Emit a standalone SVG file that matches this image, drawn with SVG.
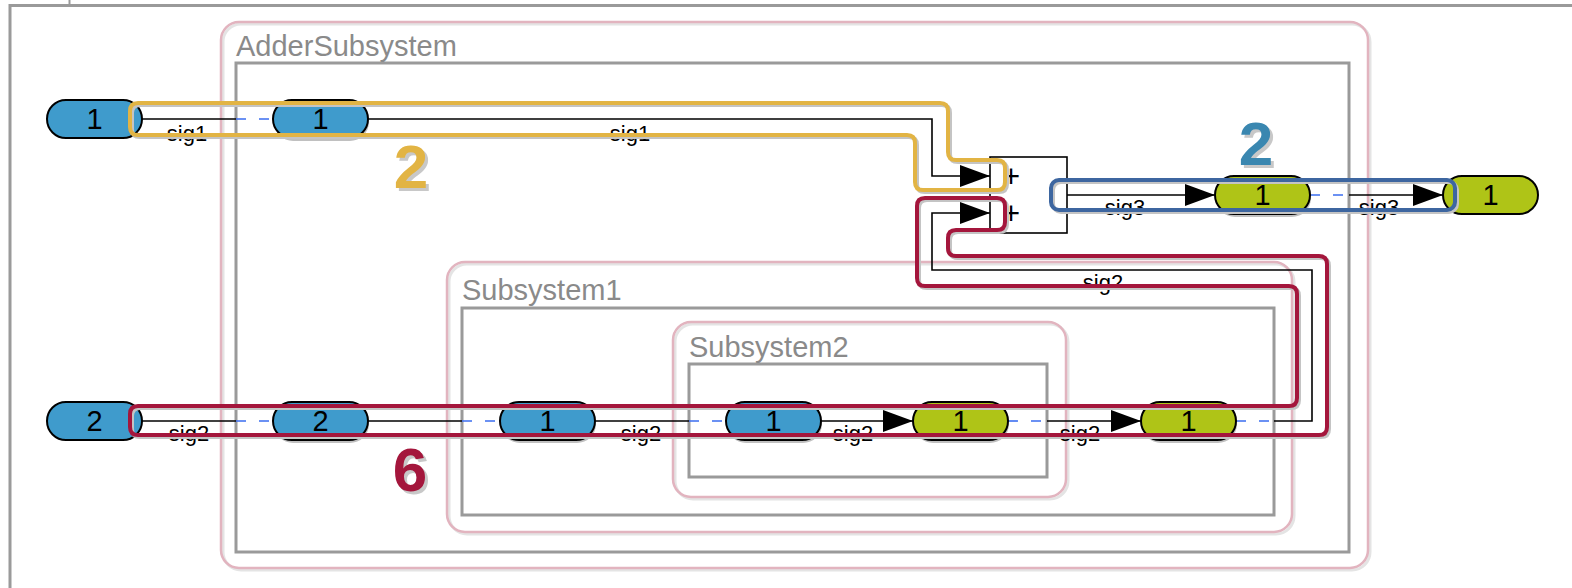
<svg xmlns="http://www.w3.org/2000/svg" width="1572" height="588" viewBox="0 0 1572 588">
<style>
text{font-family:"Liberation Sans",Arial,sans-serif}
.pink{fill:none;stroke:#e2b4bf;stroke-width:2.5}
.pinksh{fill:none;stroke:#e4e4e4;stroke-width:3}
.grey{fill:none;stroke:#9a9a9a;stroke-width:3}
.flabel{font-size:29px;fill:#8a8a8a}
.pin{fill:#3f9bcc;stroke:#000;stroke-width:2}
.pout{fill:#afc417;stroke:#000;stroke-width:2}
.psh{fill:#8c8c8c;opacity:.55}
.pt{font-size:29px;fill:#000;text-anchor:middle}
.wire{fill:none;stroke:#000;stroke-width:1.6}
.dash{fill:none;stroke:#3b6ef0;stroke-width:1.6;stroke-dasharray:10 13}
.lbl{font-size:22px;fill:#000;text-anchor:middle}
.hl{fill:none;stroke-width:4;stroke-linejoin:round}
.hlsh{fill:none;stroke:#c4c4c4;stroke-width:4;stroke-linejoin:round}
.badge{font-size:62px;font-weight:bold;text-anchor:middle}
.bsh{font-size:62px;font-weight:bold;text-anchor:middle;fill:#c8c8c8}
</style>
<defs>
<marker id="arr" markerWidth="30" markerHeight="22" refX="30" refY="11" orient="auto" markerUnits="userSpaceOnUse"><path d="M0,0 L30,11 L0,22 Z" fill="#000"/></marker>
</defs>
<rect width="1572" height="588" fill="#fff"/>
<g id="canvas-frame">
<path d="M10,588 V5.5 H1572" fill="none" stroke="#9a9a9a" stroke-width="3"/>
<line x1="69.5" y1="0" x2="69.5" y2="5" stroke="#9a9a9a" stroke-width="2"/>
</g>
<g id="AdderSubsystem">
<rect class="pinksh" x="223" y="24" width="1147" height="546" rx="18"/>
<rect class="pink" x="221" y="22" width="1147" height="546" rx="18"/>
<rect class="grey" x="236" y="63" width="1113" height="489"/>
<text class="flabel" x="236" y="56">AdderSubsystem</text>
</g>
<g id="Subsystem1">
<rect class="pinksh" x="449" y="264" width="845" height="270" rx="18"/>
<rect class="pink" x="447" y="262" width="845" height="270" rx="18"/>
<rect class="grey" x="462" y="308" width="812" height="207"/>
<text class="flabel" x="462" y="300">Subsystem1</text>
</g>
<g id="Subsystem2">
<rect class="pinksh" x="675" y="324" width="393" height="175" rx="18"/>
<rect class="pink" x="673" y="322" width="393" height="175" rx="18"/>
<rect class="grey" x="689" y="364" width="358" height="113"/>
<text class="flabel" x="689" y="357">Subsystem2</text>
</g>
<g id="connectors">
<path class="wire" d="M142,119 H236"/>
<path class="dash" d="M236,119 H273"/>
<path class="wire" d="M368,119 H932 V176 H990" marker-end="url(#arr)"/>
<path class="wire" d="M142,421 H236"/>
<path class="dash" d="M236,421 H273"/>
<path class="wire" d="M368,421 H462"/>
<path class="dash" d="M462,421 H500"/>
<path class="wire" d="M595,421 H689"/>
<path class="dash" d="M689,421 H726"/>
<path class="wire" d="M821,421 H913" marker-end="url(#arr)"/>
<path class="dash" d="M1008,421 H1047"/>
<path class="wire" d="M1047,421 H1141" marker-end="url(#arr)"/>
<path class="dash" d="M1236,421 H1274"/>
<path class="wire" d="M1274,421 H1312 V270 H932 V213 H990" marker-end="url(#arr)"/>
<path class="wire" d="M1067,195 H1215" marker-end="url(#arr)"/>
<path class="dash" d="M1310,195 H1349"/>
<path class="wire" d="M1349,195 H1443" marker-end="url(#arr)"/>
<text class="lbl" x="187" y="141">sig1</text>
<text class="lbl" x="630" y="141">sig1</text>
<text class="lbl" x="189" y="441">sig2</text>
<text class="lbl" x="641" y="441">sig2</text>
<text class="lbl" x="853" y="441">sig2</text>
<text class="lbl" x="1080" y="441">sig2</text>
<text class="lbl" x="1103" y="290">sig2</text>
<text class="lbl" x="1125" y="215">sig3</text>
<text class="lbl" x="1379" y="215">sig3</text>
</g>
<g id="In1-outer">
<rect class="pin" x="47" y="100" width="95" height="38" rx="19"/>
<text class="pt" x="94.5" y="129">1</text>
</g>
<g id="In2-outer">
<rect class="pin" x="47" y="402" width="95" height="38" rx="19"/>
<text class="pt" x="94.5" y="431">2</text>
</g>
<g id="Adder-In1">
<rect class="psh" x="274" y="103" width="95" height="38" rx="19"/>
<rect class="pin" x="273" y="100" width="95" height="38" rx="19"/>
<text class="pt" x="320.5" y="129">1</text>
</g>
<g id="Adder-In2">
<rect class="psh" x="274" y="405" width="95" height="38" rx="19"/>
<rect class="pin" x="273" y="402" width="95" height="38" rx="19"/>
<text class="pt" x="320.5" y="431">2</text>
</g>
<g id="Sub1-In1">
<rect class="psh" x="501" y="405" width="95" height="38" rx="19"/>
<rect class="pin" x="500" y="402" width="95" height="38" rx="19"/>
<text class="pt" x="547.5" y="431">1</text>
</g>
<g id="Sub2-In1">
<rect class="psh" x="727" y="405" width="95" height="38" rx="19"/>
<rect class="pin" x="726" y="402" width="95" height="38" rx="19"/>
<text class="pt" x="773.5" y="431">1</text>
</g>
<g id="Sub2-Out1">
<rect class="psh" x="914" y="405" width="95" height="38" rx="19"/>
<rect class="pout" x="913" y="402" width="95" height="38" rx="19"/>
<text class="pt" x="960.5" y="431">1</text>
</g>
<g id="Sub1-Out1">
<rect class="psh" x="1142" y="405" width="95" height="38" rx="19"/>
<rect class="pout" x="1141" y="402" width="95" height="38" rx="19"/>
<text class="pt" x="1188.5" y="431">1</text>
</g>
<g id="Adder-Out1">
<rect class="psh" x="1216" y="179" width="95" height="38" rx="19"/>
<rect class="pout" x="1215" y="176" width="95" height="38" rx="19"/>
<text class="pt" x="1262.5" y="205">1</text>
</g>
<g id="Out1-outer">
<rect class="pout" x="1443" y="176" width="95" height="38" rx="19"/>
<text class="pt" x="1490.5" y="205">1</text>
</g>
<g id="Sum">
<rect x="990" y="157" width="77" height="76" fill="#fff" stroke="#000" stroke-width="1.6"/>
<text x="1011" y="187" font-size="31" text-anchor="middle">+</text>
<text x="1011" y="224" font-size="31" text-anchor="middle">+</text>
</g>
<g id="highlights">
<path class="hlsh" transform="translate(2,2)" d="M138,103 H940 Q948,103 948,111 V152 Q948,160 956,160 H997 Q1005,160 1005,168 V182 Q1005,190 997,190 H923 Q915,190 915,182 V143 Q915,135 907,135 H138 Q130,135 130,127 V111 Q130,103 138,103 Z"/>
<path class="hl" stroke="#e2b444" d="M138,103 H940 Q948,103 948,111 V152 Q948,160 956,160 H997 Q1005,160 1005,168 V182 Q1005,190 997,190 H923 Q915,190 915,182 V143 Q915,135 907,135 H138 Q130,135 130,127 V111 Q130,103 138,103 Z"/>
<rect class="hlsh" x="1053" y="182" width="404" height="30" rx="8"/>
<rect class="hl" stroke="#3d66a0" x="1051" y="180" width="404" height="30" rx="8"/>
<path class="hlsh" transform="translate(2,2)" d="M138,406 H1289 Q1297,406 1297,398 V294 Q1297,286 1289,286 H925 Q917,286 917,278 V206 Q917,198 925,198 H997 Q1005,198 1005,206 V222 Q1005,230 997,230 H956 Q948,230 948,238 V248 Q948,256 956,256 H1319 Q1327,256 1327,264 V427 Q1327,435 1319,435 H138 Q130,435 130,427 V414 Q130,406 138,406 Z"/>
<path class="hl" stroke="#a4163c" d="M138,406 H1289 Q1297,406 1297,398 V294 Q1297,286 1289,286 H925 Q917,286 917,278 V206 Q917,198 925,198 H997 Q1005,198 1005,206 V222 Q1005,230 997,230 H956 Q948,230 948,238 V248 Q948,256 956,256 H1319 Q1327,256 1327,264 V427 Q1327,435 1319,435 H138 Q130,435 130,427 V414 Q130,406 138,406 Z"/>
</g>
<g id="badges">
<text class="bsh" x="414" y="191">2</text>
<text class="badge" x="411" y="188" fill="#e2b444">2</text>
<text class="bsh" x="1259" y="168">2</text>
<text class="badge" x="1256" y="165" fill="#3a87b0">2</text>
<text class="bsh" x="413" y="494">6</text>
<text class="badge" x="410" y="491" fill="#a4163c">6</text>
</g>
</svg>
